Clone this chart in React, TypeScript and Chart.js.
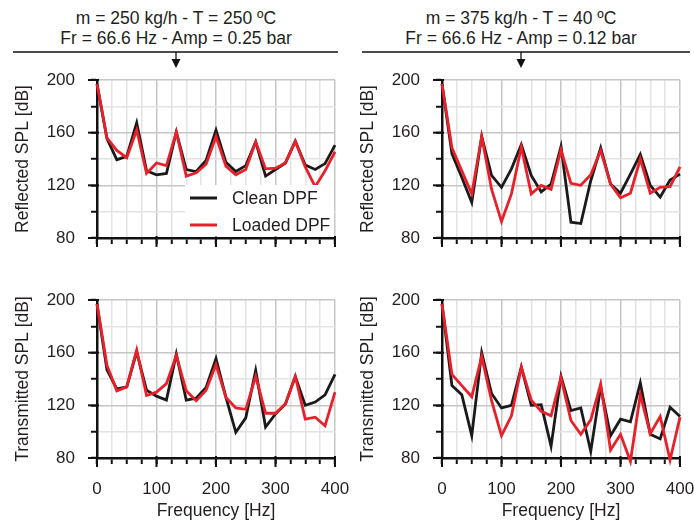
import React, { useEffect, useRef } from 'react';
import { Chart, registerables } from 'chart.js';

Chart.register(...registerables);

const FONT = "'Liberation Sans', Arial, Helvetica, sans-serif";
const TEXT = '#231f20';

// Frequency axis (Hz): harmonics at Fr/4 spacing
const frequencies = [0, 16.7, 33.3, 50, 66.7, 83.3, 100, 116.7, 133.3, 150, 166.7, 183.3, 200, 216.7, 233.3, 250, 266.7, 283.3, 300, 316.7, 333.3, 350, 366.7, 383.3, 400];

// Top-left: reflected, m = 250 kg/h
const reflCleanA = [197, 155.5, 139.5, 142, 167.5, 131, 128, 129, 160.5, 132, 130.5, 139, 162, 137.5, 130.5, 135, 153, 127, 132, 137, 153.5, 135.5, 132, 136.5, 150.5];
const reflLoadedA = [197, 156, 146.5, 141, 162, 129, 137, 135, 160.5, 127, 129.5, 136, 157, 134.5, 128, 132, 153, 132.5, 133, 137, 153.5, 134, 119, 131, 145.5];
// Top-right: reflected, m = 375 kg/h
const reflCleanB = [197, 144, 126, 107, 157, 127.5, 118.5, 132.5, 151, 127.5, 115, 121, 149.5, 92, 91, 123.5, 148.5, 121, 114, 128.5, 143.5, 120, 111, 124, 128.5];
const reflLoadedB = [197, 148.5, 131, 113.5, 157, 117, 92.5, 113.5, 149, 113.5, 120, 117, 147, 121.5, 120, 128, 146.5, 121, 110.5, 114, 140, 114, 118.5, 119, 134];
// Bottom-left: transmitted, m = 250 kg/h
const transCleanA = [197, 147, 132.5, 134, 160.5, 131.5, 127, 124, 159, 124, 125.5, 133.5, 155.5, 126, 99.5, 110.5, 146.5, 103.5, 113.5, 121, 142, 120, 122.5, 128, 143.5];
const transLoadedA = [197, 150.5, 131, 134, 162, 127.5, 130, 136.5, 158, 131, 123.5, 131.5, 151, 126, 118, 117, 142, 114, 114, 121, 142, 109.5, 111, 104.5, 130];
// Bottom-right: transmitted, m = 375 kg/h
const transCleanB = [197, 135, 128, 97, 160, 129, 118, 120, 149, 120, 120.5, 89, 142, 116, 118, 85, 134, 97, 109.5, 107.5, 137, 98, 94.5, 118.5, 111.5];
const transLoadedB = [197, 143.5, 135, 126.5, 157, 123.5, 97, 112, 149, 124, 115.5, 112, 141, 108.5, 98, 109, 136, 86, 98, 77.5, 128, 98.5, 111.5, 78.5, 111];

const seriesLabels = ['Clean DPF', 'Loaded DPF'];
const seriesColors = ['#1a1a1a', '#e8202a'];

const xMajorTicks = [0, 100, 200, 300, 400];
const yMajorTicks = [80, 120, 160, 200];

const titlesA = ['m = 250 kg/h - T = 250 ºC', 'Fr = 66.6 Hz - Amp = 0.25 bar'];
const titlesB = ['m = 375 kg/h - T = 40 ºC', 'Fr = 66.6 Hz - Amp = 0.12 bar'];

const majorTickPlugin = {
  id: 'majorTicks',
  beforeDatasetsDraw(chart: any) {
    const { ctx, chartArea, scales } = chart;
    ctx.save();
    ctx.strokeStyle = '#111';
    ctx.lineWidth = 2;
    for (const v of xMajorTicks) {
      const px = scales.x.getPixelForValue(v);
      ctx.beginPath();
      ctx.moveTo(px, chartArea.bottom - 2);
      ctx.lineTo(px, chartArea.bottom + 9);
      ctx.stroke();
    }
    for (const v of yMajorTicks) {
      const py = scales.y.getPixelForValue(v);
      ctx.beginPath();
      ctx.moveTo(chartArea.left - 9, py);
      ctx.lineTo(chartArea.left + 2, py);
      ctx.stroke();
    }
    ctx.restore();
  },
};

const legendPlugin = {
  id: 'boxLegend',
  afterDatasetsDraw(chart: any, _args: any, opts: any) {
    if (!opts || !opts.show) return;
    const { ctx, chartArea } = chart;
    ctx.save();
    const left = chartArea.left + 88;
    const top = chartArea.top + 105;
    ctx.fillStyle = '#ffffff';
    ctx.fillRect(left, top, chartArea.right - 1 - left, chartArea.bottom - 1.5 - top);
    ctx.font = `17.5px ${FONT}`;
    ctx.textBaseline = 'middle';
    ctx.textAlign = 'left';
    chart.data.datasets.forEach((ds: any, i: number) => {
      const y = top + 13 + i * 27;
      ctx.strokeStyle = ds.borderColor;
      ctx.lineWidth = 3;
      ctx.beginPath();
      ctx.moveTo(left + 5, y);
      ctx.lineTo(left + 32, y);
      ctx.stroke();
      ctx.fillStyle = TEXT;
      ctx.fillText(ds.label, left + 47, y + 1);
    });
    ctx.restore();
  },
};

type PanelProps = {
  left: number;
  top: number;
  clean: number[];
  loaded: number[];
  yTitle: string;
  bottomRow: boolean;
  legend: boolean;
};

function Panel({ left, top, clean, loaded, yTitle, bottomRow, legend }: PanelProps) {
  const ref = useRef<HTMLCanvasElement | null>(null);
  const xAxisH = bottomRow ? 65 : 10;
  const height = 14 + 158 + xAxisH;
  const width = 350;

  useEffect(() => {
    if (!ref.current) return;
    const toPts = (arr: number[]) => arr.map((v, i) => ({ x: frequencies[i], y: v }));
    const chart = new Chart(ref.current, {
      type: 'line',
      data: {
        datasets: [
          {
            label: seriesLabels[0],
            data: toPts(clean),
            borderColor: seriesColors[0],
            backgroundColor: seriesColors[0],
            borderWidth: 2.8,
            pointRadius: 0,
            tension: 0,
            clip: false as any,
            order: 1,
          },
          {
            label: seriesLabels[1],
            data: toPts(loaded),
            borderColor: seriesColors[1],
            backgroundColor: seriesColors[1],
            borderWidth: 2.8,
            pointRadius: 0,
            tension: 0,
            clip: false as any,
            order: 0,
          },
        ],
      },
      options: {
        responsive: false,
        animation: false,
        devicePixelRatio: 1,
        layout: { padding: { top: 14, right: 15, bottom: 0, left: 0 } },
        plugins: {
          legend: { display: false },
          tooltip: { enabled: false },
          boxLegend: { show: legend },
        } as any,
        scales: {
          x: {
            type: 'linear',
            min: 0,
            max: 400,
            border: { color: '#111', width: 2.5 },
            grid: {
              color: (c: any) => (c.tick && c.tick.value % 100 === 0 ? '#c6c6c6' : '#e3e3e3'),
              lineWidth: 1.5,
              tickColor: '#111',
              tickWidth: 2,
              tickLength: 6,
            },
            ticks: {
              display: bottomRow,
              stepSize: 25,
              autoSkip: false,
              maxRotation: 0,
              color: TEXT,
              padding: 15,
              font: { family: FONT, size: 17 },
              callback: (v: any) => (Number(v) % 100 === 0 ? String(v) : ''),
            },
            title: {
              display: bottomRow,
              text: 'Frequency [Hz]',
              color: TEXT,
              font: { family: FONT, size: 17.5 },
              padding: { top: 0, bottom: 1 },
            },
            afterFit: (s: any) => {
              s.height = xAxisH;
              s.paddingLeft = 0;
              s.paddingRight = 0;
            },
          } as any,
          y: {
            min: 80,
            max: 200,
            border: { color: '#111', width: 2.5 },
            grid: {
              color: (c: any) => (c.tick && c.tick.value % 40 === 0 ? '#c6c6c6' : '#e3e3e3'),
              lineWidth: 1.5,
              tickColor: '#111',
              tickWidth: 2,
              tickLength: 6,
            },
            ticks: {
              stepSize: 20,
              autoSkip: false,
              color: TEXT,
              padding: 16,
              font: { family: FONT, size: 17 },
              callback: (v: any) => (Number(v) % 40 === 0 ? String(v) : ''),
            },
            title: {
              display: true,
              text: yTitle,
              color: TEXT,
              font: { family: FONT, size: 17.5 },
              padding: { top: 13, bottom: 0 },
            },
            afterFit: (s: any) => {
              s.width = 97;
              s.paddingTop = 0;
              s.paddingBottom = 0;
            },
          } as any,
        },
      },
      plugins: [majorTickPlugin, legendPlugin],
    });
    return () => chart.destroy();
  }, []);

  return (
    <canvas
      ref={ref}
      width={width}
      height={height}
      style={{ position: 'absolute', left, top, width, height }}
    />
  );
}

function Header({ cx, lines, x1, x2 }: { cx: number; lines: string[]; x1: number; x2: number }) {
  return (
    <>
      {lines.map((t, i) => (
        <div
          key={i}
          style={{
            position: 'absolute',
            left: cx - 180,
            width: 360,
            top: 7 + i * 20,
            height: 22,
            lineHeight: '22px',
            textAlign: 'center',
            fontFamily: FONT,
            fontSize: 17.5,
            color: TEXT,
            whiteSpace: 'nowrap',
          }}
        >
          {t}
        </div>
      ))}
      <svg
        width={694}
        height={80}
        style={{ position: 'absolute', left: 0, top: 0, pointerEvents: 'none' }}
      >
        <line x1={x1} x2={x2} y1={52} y2={52} stroke="#111" strokeWidth={1.5} />
        <line x1={cx} x2={cx} y1={52} y2={62} stroke="#111" strokeWidth={1.3} />
        <polygon points={`${cx - 4.5},${59} ${cx + 4.5},${59} ${cx},${68}`} fill="#111" />
      </svg>
    </>
  );
}

export default function App() {
  return (
    <div
      style={{
        position: 'fixed',
        left: 0,
        top: 0,
        width: 694,
        height: 523,
        background: '#ffffff',
        overflow: 'hidden',
      }}
    >
      <Header cx={176} lines={titlesA} x1={13} x2={338} />
      <Header cx={521} lines={titlesB} x1={362} x2={690} />
      <Panel left={0} top={66} clean={reflCleanA} loaded={reflLoadedA} yTitle="Reflected SPL [dB]" bottomRow={false} legend={true} />
      <Panel left={345} top={66} clean={reflCleanB} loaded={reflLoadedB} yTitle="Reflected SPL [dB]" bottomRow={false} legend={false} />
      <Panel left={0} top={286} clean={transCleanA} loaded={transLoadedA} yTitle="Transmitted SPL [dB]" bottomRow={true} legend={false} />
      <Panel left={345} top={286} clean={transCleanB} loaded={transLoadedB} yTitle="Transmitted SPL [dB]" bottomRow={true} legend={false} />
    </div>
  );
}
